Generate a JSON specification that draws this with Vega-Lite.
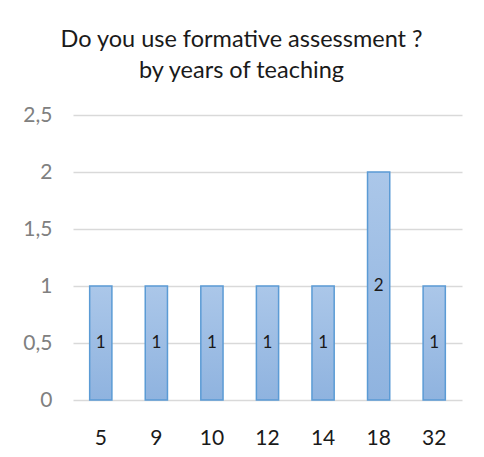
{
  "$schema": "https://vega.github.io/schema/vega-lite/v6.json",
  "width": 484,
  "height": 457,
  "autosize": {"type": "fit", "contains": "padding"},
  "padding": {"left": 13, "top": 27, "right": 22, "bottom": 9},
  "background": "white",
  "title": {
    "text": ["Do you use formative assessment ?", "by years of teaching"],
    "fontSize": 23.5,
    "fontWeight": "normal",
    "font": "Lato",
    "color": "#1a1a1a",
    "lineHeight": 31,
    "anchor": "middle",
    "frame": "bounds",
    "dx": 4,
    "offset": 22
  },
  "data": {
    "values": [
      {"years": "5", "count": 1},
      {"years": "9", "count": 1},
      {"years": "10", "count": 1},
      {"years": "12", "count": 1},
      {"years": "14", "count": 1},
      {"years": "18", "count": 2},
      {"years": "32", "count": 1}
    ]
  },
  "config": {
    "view": {"stroke": null},
    "font": "Lato"
  },
  "encoding": {
    "x": {
      "field": "years",
      "type": "ordinal",
      "sort": null,
      "scale": {"paddingInner": 0, "paddingOuter": 0},
      "axis": {
        "title": null,
        "labelAngle": 0,
        "domain": false,
        "ticks": false,
        "tickSize": 0,
        "labelPadding": 27,
        "labelFontSize": 21,
        "labelColor": "#1a1a1a",
        "labelFont": "Lato",
        "minExtent": 45,
        "maxExtent": 45
      }
    }
  },
  "layer": [
    {
      "mark": {
        "type": "bar",
        "width": {"band": 0.4},
        "fill": {
          "gradient": "linear",
          "x1": 0, "y1": 0, "x2": 0, "y2": 1,
          "stops": [
            {"offset": 0, "color": "#abc7e9"},
            {"offset": 1, "color": "#8fb3df"}
          ]
        },
        "stroke": "#5b9bd5",
        "strokeWidth": 1.5
      },
      "encoding": {
        "y": {
          "field": "count",
          "type": "quantitative",
          "scale": {"domain": [0, 2.5]},
          "axis": {
            "title": null,
            "values": [0, 0.5, 1, 1.5, 2, 2.5],
            "labelExpr": "replace(toString(datum.value), '.', ',')",
            "domain": false,
            "ticks": false,
            "tickSize": 0,
            "labelPadding": 21,
            "labelFontSize": 21,
            "labelColor": "#808080",
            "labelFont": "Lato",
            "grid": true,
            "gridColor": "#d9d9d9",
            "gridWidth": 1.5,
            "minExtent": 60,
            "maxExtent": 60
          }
        }
      }
    },
    {
      "mark": {"type": "text", "fontSize": 17, "font": "Lato", "color": "#1a1a1a", "baseline": "middle"},
      "encoding": {
        "y": {
          "field": "count",
          "type": "quantitative",
          "scale": {"domain": [0, 5]},
          "axis": null
        },
        "text": {"field": "count", "type": "quantitative"}
      }
    }
  ],
  "resolve": {"scale": {"y": "independent"}}
}
